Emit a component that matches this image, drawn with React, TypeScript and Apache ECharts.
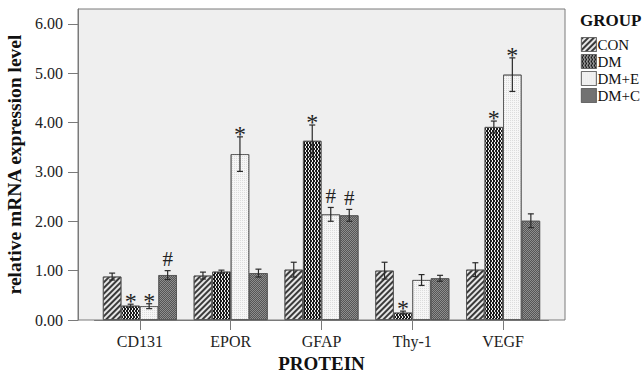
import React, { useEffect, useRef } from "react";
import * as echarts from "echarts";

const categories = ["CD131", "EPOR", "GFAP", "Thy-1", "VEGF"];
const groups = ["CON", "DM", "DM+E", "DM+C"];
const conMean = [0.88, 0.9, 1.02, 1.0, 1.02];
const conErr = [0.07, 0.07, 0.15, 0.17, 0.14];
const dmMean = [0.29, 0.98, 3.63, 0.15, 3.91];
const dmErr = [0.03, 0.03, 0.32, 0.03, 0.12];
const dmeMean = [0.28, 3.36, 2.14, 0.81, 4.97];
const dmeErr = [0.05, 0.35, 0.14, 0.11, 0.34];
const dmcMean = [0.91, 0.95, 2.12, 0.845, 2.01];
const dmcErr = [0.09, 0.08, 0.12, 0.06, 0.14];
const conMarks = ["", "", "", "", ""];
const dmMarks = ["*", "", "*", "*", "*"];
const dmeMarks = ["*", "*", "#", "", "*"];
const dmcMarks = ["#", "", "#", "", ""];
const yTicks = [0, 1, 2, 3, 4, 5, 6];

const means = [conMean, dmMean, dmeMean, dmcMean];
const errs = [conErr, dmErr, dmeErr, dmcErr];
const marks = [conMarks, dmMarks, dmeMarks, dmcMarks];

const FONT = "Liberation Serif";
const BAR_W = 18.5;

const decals: any[] = [
  { symbol: "rect", symbolSize: 1, color: "#3a3a3a", dashArrayX: [1, 0], dashArrayY: [1.2, 1.8], rotation: -Math.PI / 4 },
  { symbol: "rect", symbolSize: 1, color: "#1a1a1a", dashArrayX: [[2, 1], [0, 1, 2, 0]], dashArrayY: [2, 0], rotation: 0 },
  { symbol: "rect", symbolSize: 1, color: "#dcdcdc", dashArrayX: [1, 1], dashArrayY: [1, 1], rotation: 0 },
  { symbol: "rect", symbolSize: 1, color: "#555555", dashArrayX: [[1, 1], [0, 1, 1, 0]], dashArrayY: [1, 0], rotation: 0 },
];
const baseColors = ["#e6e6e6", "#f0f0f0", "#f6f6f6", "#8e8e8e"];

export default function App() {
  const ref = useRef<HTMLDivElement>(null);
  useEffect(() => {
    if (!ref.current) return;
    const chart = echarts.init(ref.current, undefined, { renderer: "svg" });

    const barSeries = groups.map((g, gi) => ({
      name: g,
      type: "bar",
      data: means[gi],
      barWidth: BAR_W,
      barGap: "0%",
      z: 2,
      itemStyle: {
        color: baseColors[gi],
        borderColor: "#555",
        borderWidth: 0.8,
        decal: decals[gi],
      },
    }));

    const errData: any[] = [];
    groups.forEach((g, gi) => {
      categories.forEach((c, ci) => {
        errData.push([ci, gi, means[gi][ci], errs[gi][ci]]);
      });
    });
    const errMarks = errData.map((d) => marks[d[1]][d[0]]);

    const errSeries = {
      type: "custom",
      name: "err",
      z: 5,
      encode: { x: 0, y: 2 },
      data: errData,
      renderItem: (params: any, api: any) => {
        const ci = api.value(0);
        const gi = api.value(1);
        const v = api.value(2);
        const e = api.value(3);
        const c = api.coord([ci, v]);
        const x = c[0] + (gi - 1.5) * BAR_W;
        const top = api.coord([ci, v + e])[1];
        const bot = api.coord([ci, v - e])[1];
        const st = { stroke: "#2a2a2a", lineWidth: 1.2 };
        const children: any[] = [
          { type: "line", shape: { x1: x, y1: top, x2: x, y2: bot }, style: st },
          { type: "line", shape: { x1: x - 3, y1: top, x2: x + 3, y2: top }, style: st },
          { type: "line", shape: { x1: x - 3, y1: bot, x2: x + 3, y2: bot }, style: st },
        ];
        const m = errMarks[params.dataIndex];
        if (m) {
          children.push({
            type: "text",
            style: {
              text: m,
              x: x,
              y: m === "*" ? top + 9 : top - 1,
              align: "center",
              verticalAlign: "bottom",
              font: m === "*" ? `24px "${FONT}"` : `21px "${FONT}"`,
              fill: "#222",
            },
          });
        }
        return { type: "group", children };
      },
    };

    chart.setOption({
      animation: false,
      graphic: [
        {
          type: "rect",
          z: -10,
          silent: true,
          shape: { x: 78, y: 9, width: 487, height: 311 },
          style: { fill: "#efefef", stroke: "#7a7a7a", lineWidth: 1 },
        },
        {
          type: "text",
          left: 580,
          top: 12,
          style: { text: "GROUP", font: `bold 17px "${FONT}"`, fill: "#111" },
        },
      ],
      legend: {
        orient: "vertical",
        left: 581,
        top: 37,
        itemWidth: 15,
        itemHeight: 14,
        itemGap: 2,
        icon: "rect",
        data: groups,
        padding: 0,
        textStyle: { fontFamily: FONT, fontSize: 15, color: "#111", padding: [0, 0, 0, -4] },
        itemStyle: { borderColor: "#666", borderWidth: 0.8 },
      },
      grid: { left: 94.5, right: 95.5, top: 9, bottom: 55, containLabel: false, outerBoundsMode: "none" },
      xAxis: {
        type: "category",
        data: categories,
        name: "PROTEIN",
        nameLocation: "middle",
        nameGap: 34,
        nameTextStyle: { fontFamily: FONT, fontSize: 19, fontWeight: "bold", color: "#111" },
        axisLine: { show: true, lineStyle: { color: "#7a7a7a" } },
        axisTick: { show: true, alignWithLabel: true, length: 10, lineStyle: { color: "#7a7a7a" } },
        axisLabel: { fontFamily: FONT, fontSize: 16, color: "#222", margin: 13 },
      },
      yAxis: {
        type: "value",
        min: 0,
        max: 6.3,
        offset: 16.5,
        name: "relative mRNA expression level",
        nameLocation: "middle",
        nameGap: 51,
        nameTextStyle: { fontFamily: FONT, fontSize: 19.5, fontWeight: "bold", color: "#111" },
        axisLine: { show: true, lineStyle: { color: "#7a7a7a" } },
        axisTick: { show: true, length: 10, customValues: yTicks, lineStyle: { color: "#7a7a7a" } },
        axisLabel: {
          customValues: yTicks,
          fontFamily: FONT,
          fontSize: 16,
          color: "#222",
          margin: 15,
          formatter: (v: number) => v.toFixed(2),
        },
        splitLine: { show: false },
      },
      series: [...barSeries, errSeries],
    });
    return () => chart.dispose();
  }, []);
  return <div ref={ref} style={{ position: "absolute", left: 0, top: 0, width: 644, height: 375 }} />;
}
